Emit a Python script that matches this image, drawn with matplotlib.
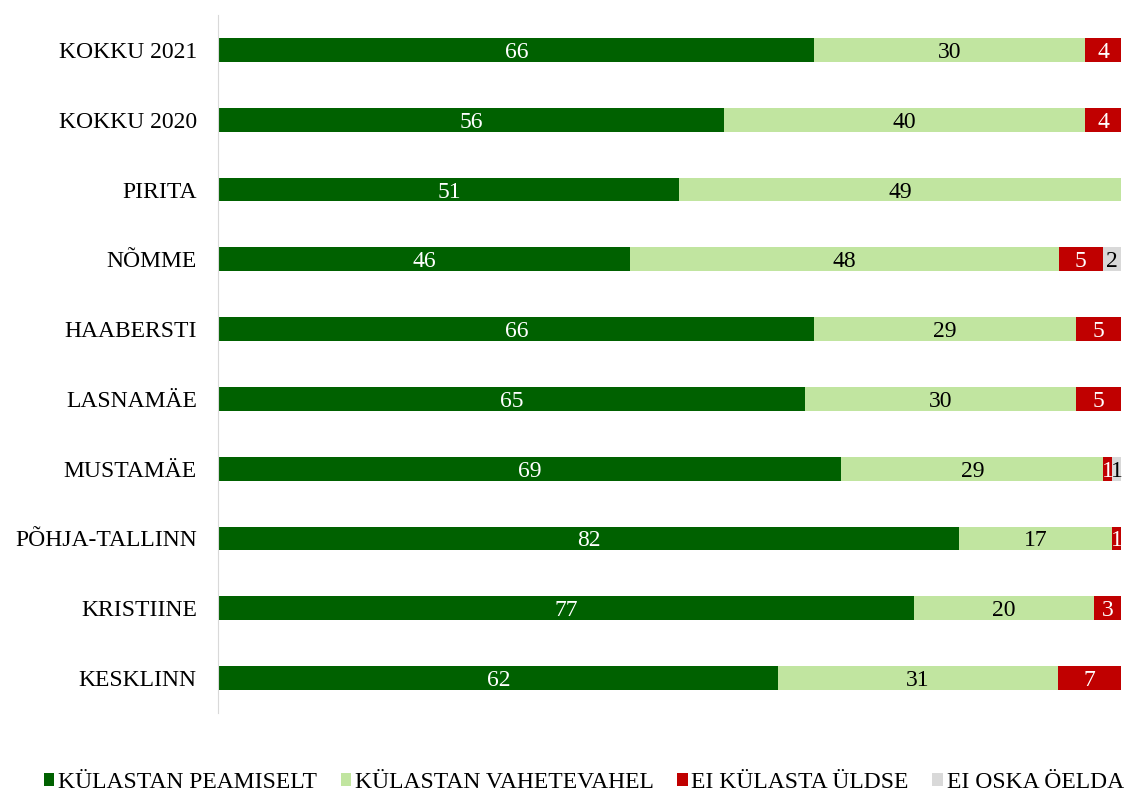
import matplotlib.pyplot as plt
import numpy as np

# --------------------------
# Données
# --------------------------
categories = ["KOKKU 2021", "KOKKU 2020", "PIRITA", "NÕMME", "HAABERSTI",
              "LASNAMÄE", "MUSTAMÄE", "PÕHJA-TALLINN", "KRISTIINE", "KESKLINN"]
peamiselt = [66, 56, 51, 46, 66, 65, 69, 82, 77, 62]
vahetevahel = [30, 40, 49, 48, 29, 30, 29, 17, 20, 31]
ei_kulasta = [4, 4, 0, 5, 5, 5, 1, 1, 3, 7]
ei_oska = [0, 0, 0, 2, 0, 0, 1, 0, 0, 0]

series_names = ["KÜLASTAN PEAMISELT", "KÜLASTAN VAHETEVAHEL", "EI KÜLASTA ÜLDSE", "EI OSKA ÖELDA"]
colors = ["#006100", "#C1E5A0", "#C00000", "#D9D9D9"]
text_colors = ["white", "black", "white", "black"]

plt.rcParams['font.family'] = ['Liberation Serif', 'DejaVu Serif']

data = np.array([peamiselt, vahetevahel, ei_kulasta, ei_oska], dtype=float)
totals = data.sum(axis=0)
pct = data / totals * 100  # 100% empilé

fig = plt.figure(figsize=(11.29, 7.93), dpi=100)
ax = fig.add_axes([0.194, 0.101, 0.799, 0.880])

y = np.arange(len(categories))
left = np.zeros(len(categories))
for i, name in enumerate(series_names):
    bars = ax.barh(y, pct[i], left=left, height=0.34, color=colors[i], label=name)
    for j, b in enumerate(bars):
        if data[i, j] > 0:
            ax.text(b.get_x() + b.get_width() / 2, y[j], f"{int(data[i, j])}",
                    ha='center', va='center_baseline', color=text_colors[i], fontsize=17)
    left += pct[i]

ax.set_xlim(0, 100)
ax.set_ylim(len(categories) - 0.5, -0.5)
ax.set_yticks(y)
ax.set_yticklabels(categories)
ax.set_xticks([])
ax.tick_params(axis='y', length=0, pad=15, labelsize=17)
for s in ['top', 'right', 'bottom']:
    ax.spines[s].set_visible(False)
ax.spines['left'].set_color('#D9D9D9')
ax.spines['left'].set_position(('outward', 1))

fig.legend(loc='lower center', bbox_to_anchor=(0.517, -0.027), ncol=4, frameon=False,
           fontsize=17, handlelength=0.45, handleheight=0.45, handletextpad=0.15,
           columnspacing=1.0)

fig.savefig("out.png", dpi=100)
